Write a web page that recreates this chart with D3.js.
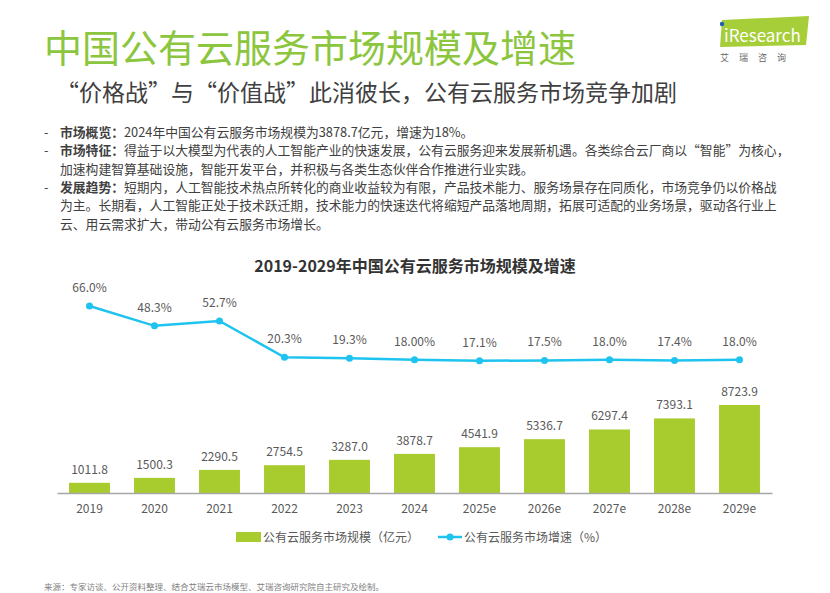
<!DOCTYPE html>
<html>
<head>
<meta charset="utf-8">
<script src="https://cdn.jsdelivr.net/npm/d3@7"></script>
<style>
  body { margin: 0; background: #fff; }
  svg text { font-family: "Noto Sans CJK SC", "Noto Sans", sans-serif; }
</style>
</head>
<body>
<div class="vis-area"></div>
<script>
var width = 830;
var height = 593;

// chart data
var years = ['2019', '2020', '2021', '2022', '2023', '2024', '2025e', '2026e', '2027e', '2028e', '2029e'];
var marketSize = [1011.8, 1500.3, 2290.5, 2754.5, 3287.0, 3878.7, 4541.9, 5336.7, 6297.4, 7393.1, 8723.9];
var growthRate = [66.0, 48.3, 52.7, 20.3, 19.3, 18.0, 17.1, 17.5, 18.0, 17.4, 18.0];
var growthLabels = ['66.0%', '48.3%', '52.7%', '20.3%', '19.3%', '18.00%', '17.1%', '17.5%', '18.0%', '17.4%', '18.0%'];
var legendNames = ['公有云服务市场规模（亿元）', '公有云服务市场增速（%）'];

var bullets = [
  ['市场概览：', '2024年中国公有云服务市场规模为3878.7亿元，增速为18%。'],
  ['市场特征：', '得益于以大模型为代表的人工智能产业的快速发展，公有云服务迎来发展新机遇。各类综合云厂商以“智能”为核心，', '加速构建智算基础设施，智能开发平台，并积极与各类生态伙伴合作推进行业实践。'],
  ['发展趋势：', '短期内，人工智能技术热点所转化的商业收益较为有限，产品技术能力、服务场景存在同质化，市场竞争仍以价格战', '为主。长期看，人工智能正处于技术跃迁期，技术能力的快速迭代将缩短产品落地周期，拓展可适配的业务场景，驱动各行业上', '云、用云需求扩大，带动公有云服务市场增长。']
];

var green = '#a8cc2e';
var blue = '#1fc3ef';
var textGray = '#595959';

var svg = d3.select('.vis-area')
  .append('svg')
  .attr('width', width)
  .attr('height', height);

// header
svg.append('text')
  .attr('x', 44).attr('y', 62)
  .attr('font-size', 38)
  .attr('fill', '#8cc63e')
  .text('中国公有云服务市场规模及增速');

svg.append('text')
  .attr('x', 56).attr('y', 101)
  .attr('font-size', 23)
  .attr('fill', '#404040')
  .text('“价格战”与“价值战”此消彼长，公有云服务市场竞争加剧');

// logo
var logo = svg.append('g');
logo.append('path')
  .attr('d', 'M722,20 L809,16 L806,45 L720,47 Z')
  .attr('fill', '#a6ce39');
logo.append('text')
  .attr('x', 724).attr('y', 42)
  .attr('font-size', 17)
  .attr('fill', '#fff')
  .attr('font-family', 'Roboto, sans-serif')
  .text('iResearch');
logo.append('circle')
  .attr('cx', 722).attr('cy', 24).attr('r', 2.2)
  .attr('fill', '#1d5fb0');
logo.append('text')
  .attr('x', 720).attr('y', 61)
  .attr('font-size', 9)
  .attr('fill', '#666')
  .attr('letter-spacing', 10)
  .text('艾瑞咨询');

// bullet text
var lineY = 137;
bullets.forEach(function(b) {
  b.slice(1).forEach(function(line, i) {
    if (i === 0) {
      svg.append('text')
        .attr('x', 44).attr('y', lineY)
        .attr('font-size', 12.8)
        .attr('fill', '#404040')
        .text('-');
    }
    var t = svg.append('text')
      .attr('x', 60).attr('y', lineY)
      .attr('font-size', 12.8)
      .attr('fill', '#404040');
    if (i === 0) {
      t.append('tspan').attr('font-weight', 'bold').text(b[0]);
    }
    t.append('tspan').text(line);
    lineY += 18.3;
  });
});

// chart title
svg.append('text')
  .attr('x', 415).attr('y', 272)
  .attr('text-anchor', 'middle')
  .attr('font-size', 16)
  .attr('font-weight', 'bold')
  .attr('fill', '#333')
  .text('2019-2029年中国公有云服务市场规模及增速');

// scales
var x = d3.scaleBand()
  .domain(years)
  .range([57, 772])
  .paddingInner(0.37)
  .paddingOuter(0.185);

var yBar = d3.scaleLinear()
  .domain([0, d3.max(marketSize)])
  .range([493, 405]);

var yLine = d3.scaleLinear()
  .domain([0, d3.max(growthRate)])
  .range([380, 306]);

var data = years.map(function(y, i) {
  return {year: y, size: marketSize[i], rate: growthRate[i], rateLabel: growthLabels[i]};
});

// bars
svg.selectAll('.bar')
  .data(data)
  .enter()
  .append('rect')
  .attr('class', 'bar')
  .attr('x', d => x(d.year))
  .attr('y', d => yBar(d.size))
  .attr('width', x.bandwidth())
  .attr('height', d => yBar(0) - yBar(d.size))
  .attr('fill', green);

svg.selectAll('.bar-label')
  .data(data)
  .enter()
  .append('text')
  .attr('class', 'bar-label')
  .attr('x', d => x(d.year) + x.bandwidth() / 2)
  .attr('y', d => yBar(d.size) - 9)
  .attr('text-anchor', 'middle')
  .attr('font-size', 12)
  .attr('fill', textGray)
  .text(d => d.size.toFixed(1));

// x axis
var xAxis = svg.append('g')
  .attr('transform', 'translate(0,' + yBar(0) + ')')
  .call(d3.axisBottom(x).tickSize(0).tickPadding(11));
xAxis.select('.domain').attr('stroke', '#a6a6a6').attr('stroke-width', 1.3);
xAxis.selectAll('text')
  .attr('font-size', 12)
  .attr('fill', textGray)
  .attr('font-family', '"Noto Sans CJK SC", sans-serif');

// growth line
var line = d3.line()
  .x(d => x(d.year) + x.bandwidth() / 2)
  .y(d => yLine(d.rate));

svg.append('path')
  .datum(data)
  .attr('d', line)
  .attr('fill', 'none')
  .attr('stroke', blue)
  .attr('stroke-width', 2.5);

svg.selectAll('.dot')
  .data(data)
  .enter()
  .append('circle')
  .attr('class', 'dot')
  .attr('cx', d => x(d.year) + x.bandwidth() / 2)
  .attr('cy', d => yLine(d.rate))
  .attr('r', 3.5)
  .attr('fill', blue);

svg.selectAll('.rate-label')
  .data(data)
  .enter()
  .append('text')
  .attr('class', 'rate-label')
  .attr('x', d => x(d.year) + x.bandwidth() / 2)
  .attr('y', d => yLine(d.rate) - 14)
  .attr('text-anchor', 'middle')
  .attr('font-size', 12)
  .attr('fill', textGray)
  .text(d => d.rateLabel);

// legend
var legend = svg.append('g');
legend.append('rect')
  .attr('x', 236).attr('y', 532)
  .attr('width', 25).attr('height', 10)
  .attr('fill', green);
legend.append('text')
  .attr('x', 263).attr('y', 541.5)
  .attr('font-size', 12)
  .attr('fill', textGray)
  .text(legendNames[0]);
legend.append('line')
  .attr('x1', 438).attr('x2', 462)
  .attr('y1', 537).attr('y2', 537)
  .attr('stroke', blue).attr('stroke-width', 2.5);
legend.append('circle')
  .attr('cx', 450).attr('cy', 537).attr('r', 3.5)
  .attr('fill', blue);
legend.append('text')
  .attr('x', 464).attr('y', 541.5)
  .attr('font-size', 12)
  .attr('fill', textGray)
  .text(legendNames[1]);

// source
svg.append('text')
  .attr('x', 44).attr('y', 590)
  .attr('font-size', 8.5)
  .attr('fill', '#7f7f7f')
  .text('来源：专家访谈、公开资料整理、结合艾瑞云市场模型、艾瑞咨询研究院自主研究及绘制。');
</script>
</body>
</html>
